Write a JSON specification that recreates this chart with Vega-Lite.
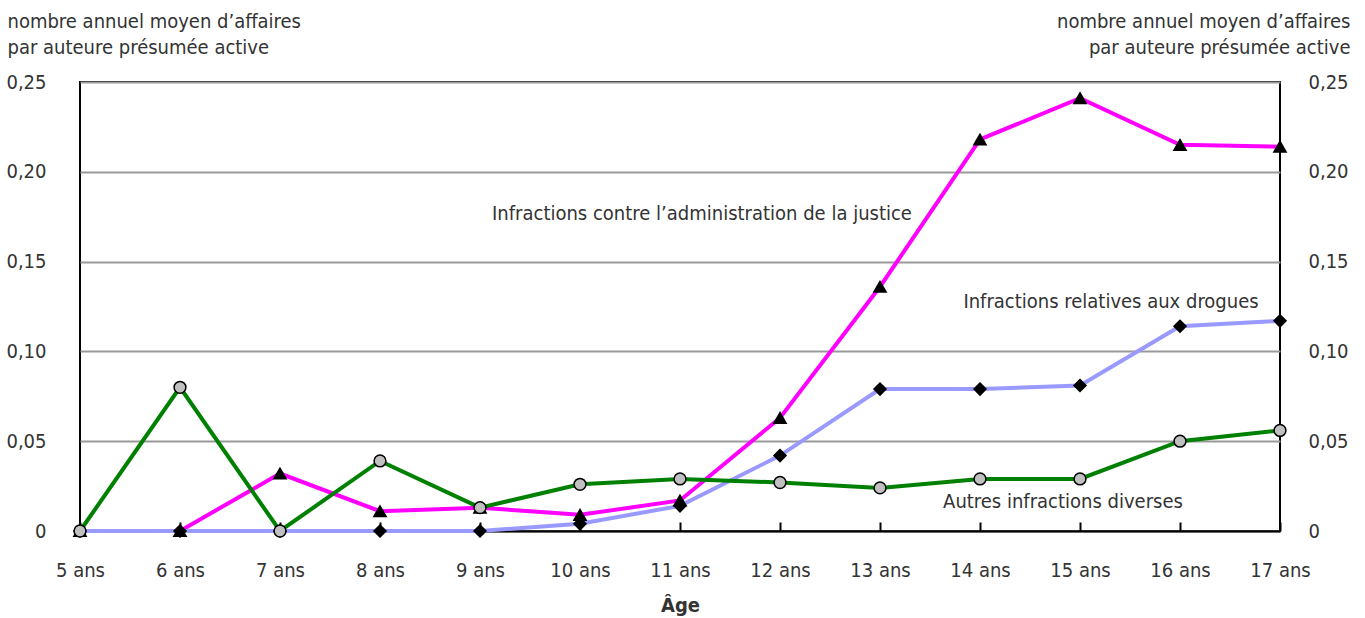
{
  "$schema": "https://vega.github.io/schema/vega-lite/v6.json",
  "width": 1200,
  "height": 449,
  "autosize": "none",
  "padding": {"left": 80, "top": 82, "right": 85, "bottom": 87},
  "background": "white",
  "config": {
    "font": "DejaVu Sans Condensed",
    "view": {"stroke": "black", "strokeWidth": 2},
    "axis": {"labelFont": "DejaVu Sans Condensed", "titleFont": "DejaVu Sans Condensed", "labelColor": "#333", "titleColor": "#333", "labelFontSize": 20, "titleFontSize": 20}
  },
  "datasets": {
    "series": [
      {"age": 5, "serie": "admin", "value": 0},
      {"age": 6, "serie": "admin", "value": 0},
      {"age": 7, "serie": "admin", "value": 0.032},
      {"age": 8, "serie": "admin", "value": 0.011},
      {"age": 9, "serie": "admin", "value": 0.013},
      {"age": 10, "serie": "admin", "value": 0.009},
      {"age": 11, "serie": "admin", "value": 0.017},
      {"age": 12, "serie": "admin", "value": 0.063},
      {"age": 13, "serie": "admin", "value": 0.136},
      {"age": 14, "serie": "admin", "value": 0.218},
      {"age": 15, "serie": "admin", "value": 0.241},
      {"age": 16, "serie": "admin", "value": 0.215},
      {"age": 17, "serie": "admin", "value": 0.214},
      {"age": 5, "serie": "drogues", "value": 0},
      {"age": 6, "serie": "drogues", "value": 0},
      {"age": 7, "serie": "drogues", "value": 0},
      {"age": 8, "serie": "drogues", "value": 0},
      {"age": 9, "serie": "drogues", "value": 0},
      {"age": 10, "serie": "drogues", "value": 0.004},
      {"age": 11, "serie": "drogues", "value": 0.014},
      {"age": 12, "serie": "drogues", "value": 0.042},
      {"age": 13, "serie": "drogues", "value": 0.079},
      {"age": 14, "serie": "drogues", "value": 0.079},
      {"age": 15, "serie": "drogues", "value": 0.081},
      {"age": 16, "serie": "drogues", "value": 0.114},
      {"age": 17, "serie": "drogues", "value": 0.117},
      {"age": 5, "serie": "autres", "value": 0},
      {"age": 6, "serie": "autres", "value": 0.080},
      {"age": 7, "serie": "autres", "value": 0},
      {"age": 8, "serie": "autres", "value": 0.039},
      {"age": 9, "serie": "autres", "value": 0.013},
      {"age": 10, "serie": "autres", "value": 0.026},
      {"age": 11, "serie": "autres", "value": 0.029},
      {"age": 12, "serie": "autres", "value": 0.027},
      {"age": 13, "serie": "autres", "value": 0.024},
      {"age": 14, "serie": "autres", "value": 0.029},
      {"age": 15, "serie": "autres", "value": 0.029},
      {"age": 16, "serie": "autres", "value": 0.050},
      {"age": 17, "serie": "autres", "value": 0.056}
    ],
    "labels": [
      {"age": 11.22, "value": 0.1765, "text": "Infractions contre l’administration de la justice"},
      {"age": 15.31, "value": 0.1275, "text": "Infractions relatives aux drogues"},
      {"age": 14.83, "value": 0.0161, "text": "Autres infractions diverses"}
    ]
  },
  "encoding": {
    "x": {
      "field": "age", "type": "quantitative",
      "scale": {"domain": [5, 17], "nice": false, "zero": false},
      "axis": {
        "title": "Âge", "titleFontWeight": "bold", "titlePadding": 15,
        "values": [5, 6, 7, 8, 9, 10, 11, 12, 13, 14, 15, 16, 17],
        "labelExpr": "datum.value + ' ans'",
        "grid": false, "domainColor": "black", "domainWidth": 2,
        "tickColor": "black", "tickWidth": 2, "tickSize": -9, "labelPadding": 38,
        "labelFlush": false, "labelOverlap": false
      }
    }
  },
  "layer": [
    {
      "data": {"name": "series"},
      "layer": [
        {
          "mark": {"type": "line", "strokeWidth": 4},
          "encoding": {
            "y": {
              "field": "value", "type": "quantitative",
              "scale": {"domain": [0, 0.25], "nice": false},
              "axis": {
                "orient": "left",
                "values": [0, 0.05, 0.1, 0.15, 0.2, 0.25],
                "labelExpr": "datum.value == 0 ? '0' : replace(format(datum.value, '.2f'), '.', ',')",
                "grid": true, "gridColor": "#999", "gridWidth": 2,
                "domain": false, "ticks": false, "labelPadding": 34,
                "title": ["nombre annuel moyen d’affaires", "par auteure présumée active"],
                "titleAngle": 0, "titleAlign": "left", "titleBaseline": "alphabetic",
                "titleX": -73, "titleY": -55, "titleLineHeight": 26, "titleFontWeight": "normal"
              }
            },
            "color": {
              "field": "serie", "type": "nominal", "legend": null,
              "scale": {"domain": ["admin", "drogues", "autres"], "range": ["#ff00ff", "#9999ff", "#008000"]}
            },
            "order": {"value": 0}
          }
        },
        {
          "mark": {"type": "point", "filled": true, "opacity": 1, "strokeWidth": 1.5},
          "encoding": {
            "y": {"field": "value", "type": "quantitative"},
            "shape": {
              "field": "serie", "type": "nominal", "legend": null,
              "scale": {"domain": ["admin", "drogues", "autres"], "range": ["triangle-up", "diamond", "circle"]}
            },
            "fill": {
              "field": "serie", "type": "nominal", "legend": null,
              "scale": {"domain": ["admin", "drogues", "autres"], "range": ["black", "black", "#c0c0c0"]}
            },
            "stroke": {
              "field": "serie", "type": "nominal", "legend": null,
              "scale": {"domain": ["admin", "drogues", "autres"], "range": ["black", "black", "black"]}
            },
            "size": {
              "field": "serie", "type": "nominal", "legend": null,
              "scale": {"domain": ["admin", "drogues", "autres"], "range": [150, 140, 160]}
            }
          }
        }
      ]
    },
    {
      "data": {"name": "labels"},
      "mark": {"type": "text", "fontSize": 20, "font": "DejaVu Sans Condensed", "color": "#333", "align": "center", "baseline": "middle"},
      "encoding": {
        "y": {
          "field": "value", "type": "quantitative",
          "scale": {"domain": [0, 0.25], "nice": false},
          "axis": {
            "orient": "right",
            "values": [0, 0.05, 0.1, 0.15, 0.2, 0.25],
            "labelExpr": "datum.value == 0 ? '0' : replace(format(datum.value, '.2f'), '.', ',')",
            "grid": false, "domain": false, "ticks": false, "labelPadding": 28,
            "title": ["nombre annuel moyen d’affaires", "par auteure présumée active"],
            "titleAngle": 0, "titleAlign": "right", "titleBaseline": "alphabetic",
            "titleX": 70, "titleY": -55, "titleLineHeight": 26, "titleFontWeight": "normal"
          }
        },
        "text": {"field": "text"}
      }
    }
  ],
  "resolve": {"scale": {"y": "independent"}, "axis": {"y": "independent"}}
}
